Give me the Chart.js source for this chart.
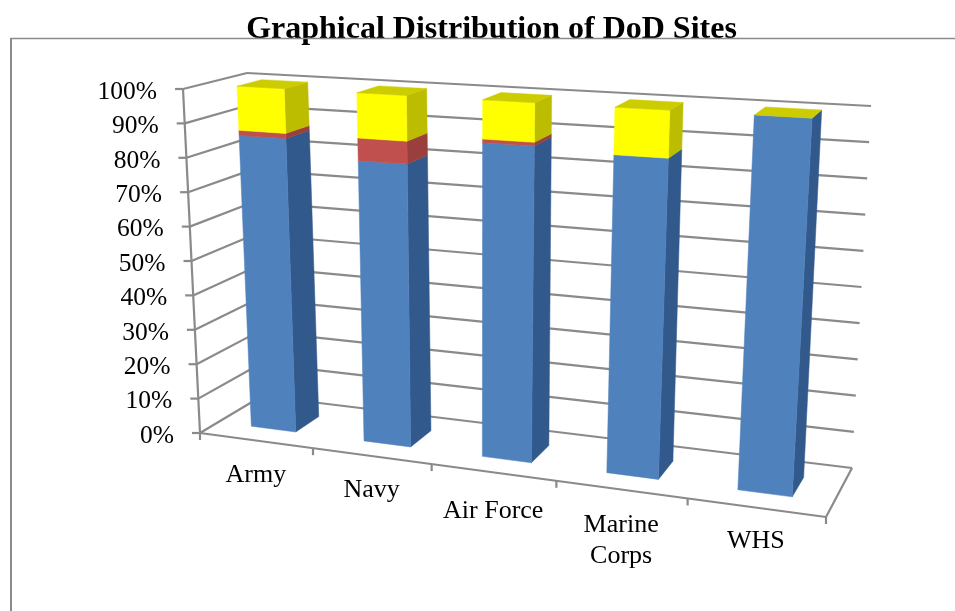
<!DOCTYPE html>
<html>
<head>
<meta charset="utf-8">
<title>Graphical Distribution of DoD Sites</title>
<script src="https://cdn.jsdelivr.net/npm/chart.js@4"></script>
<style>
  html, body { margin: 0; padding: 0; background: #fff; }
  canvas { display: block; }
</style>
</head>
<body>
<canvas id="chart" width="955" height="611"></canvas>
<script>
const categories = ["Army", "Navy", "Air Force", ["Marine", "Corps"], "WHS"];
const blueValues = [85.5, 80.5, 88, 87, 100];
const redValues = [1.5, 6.5, 1, 0, 0];
const yellowValues = [13, 13, 11, 13, 0];

const FONT = '"Liberation Serif", "Times New Roman", serif';
const GRID = "#8a8a8a";
const SIDE_COLORS = ["#32598c", "#9a3f3d", "#bcbc00"];
const TOP_COLORS = ["#3f6797", "#a84644", "#cccc00"];

// corners of the box the chart sits in, on screen
const FRONT_BOTTOM = [[200, 433], [826, 517]];
const BACK_BOTTOM = [[262, 396], [852, 468]];
const BACK_TOP = [[247, 73], [871, 106]];
const FRONT_TOP = [[183, 89], [850, 127]];
const PERSPECTIVE = 0.135;
const DEPTH_FRONT = 0.3;
const DEPTH_BACK = 0.7;
const LABEL_DROP = [0, -1, 4, 0, -2];

function lerp(a, b, t) {
  return [a[0] + (b[0] - a[0]) * t, a[1] + (b[1] - a[1]) * t];
}

// u along categories, v up the value axis, w into the page (all 0..1)
function project(u, v, w) {
  const f = u / (1 + PERSPECTIVE * (1 - u));
  const bottom = lerp(lerp(FRONT_BOTTOM[0], FRONT_BOTTOM[1], f), lerp(BACK_BOTTOM[0], BACK_BOTTOM[1], f), w);
  const top = lerp(lerp(FRONT_TOP[0], FRONT_TOP[1], f), lerp(BACK_TOP[0], BACK_TOP[1], f), w);
  return lerp(bottom, top, v);
}

function line(ctx, a, b) {
  ctx.beginPath();
  ctx.moveTo(a[0], a[1]);
  ctx.lineTo(b[0], b[1]);
  ctx.stroke();
}

function face(ctx, pts, color) {
  ctx.fillStyle = color;
  ctx.strokeStyle = color;
  ctx.lineWidth = 0.5;
  ctx.beginPath();
  pts.forEach((p, i) => (i ? ctx.lineTo(p[0], p[1]) : ctx.moveTo(p[0], p[1])));
  ctx.closePath();
  ctx.fill();
  ctx.stroke();
}

const box3d = {
  id: "box3d",
  beforeDatasetsDraw(chart) {
    const ctx = chart.ctx;
    const xs = chart.scales.x;
    const ys = chart.scales.y;
    const toV = (px) => (ys.bottom - px) / ys.height;
    const toU = (px) => (px - xs.left) / xs.width;

    ctx.save();

    // outer frame
    ctx.strokeStyle = GRID;
    ctx.lineWidth = 2;
    line(ctx, [11, 611], [11, 38]);
    ctx.lineWidth = 1.5;
    line(ctx, [10, 38.5], [955, 38.5]);

    // walls and value axis
    ctx.strokeStyle = GRID;
    ctx.lineWidth = 2.2;
    ctx.fillStyle = "#000";
    ctx.font = "25.5px " + FONT;
    ctx.textAlign = "right";
    ctx.textBaseline = "middle";
    ys.ticks.forEach((tick) => {
      const v = toV(ys.getPixelForValue(tick.value));
      const front = project(0, v, 0);
      line(ctx, [front[0] - 8, front[1]], front);
      line(ctx, front, project(0, v, 1));
      line(ctx, project(0, v, 1), project(1, v, 1));
      ctx.fillText(tick.label, front[0] - 26, front[1] + 3);
    });
    line(ctx, project(0, 0, 0), project(0, 1, 0));

    // floor and category axis
    line(ctx, project(0, 0, 0), project(1, 0, 0));
    line(ctx, project(1, 0, 0), project(1, 0, 1));
    ctx.font = "26px " + FONT;
    ctx.textAlign = "center";
    ctx.textBaseline = "alphabetic";
    const step = xs.width / categories.length;
    for (let i = 0; i <= categories.length; i++) {
      const p = project(toU(xs.left + step * i), 0, 0);
      line(ctx, p, [p[0], p[1] + 7]);
    }
    categories.forEach((label, i) => {
      const p = project(toU(xs.getPixelForValue(i)), 0, 0);
      [].concat(label).forEach((text, row) => {
        ctx.fillText(text, p[0], p[1] + 42 + LABEL_DROP[i] + row * 31);
      });
    });

    // bars, built from the elements the bar controller placed
    chart.data.datasets.forEach((dataset, s) => {
      chart.getDatasetMeta(s).data.forEach((el, i) => {
        if (!dataset.data[i]) return;
        const u0 = toU(el.x - el.width / 2);
        const u1 = toU(el.x + el.width / 2);
        const v0 = toV(el.base);
        const v1 = toV(el.y);
        face(ctx, [project(u1, v0, DEPTH_FRONT), project(u1, v0, DEPTH_BACK), project(u1, v1, DEPTH_BACK), project(u1, v1, DEPTH_FRONT)], SIDE_COLORS[s]);
        face(ctx, [project(u0, v0, DEPTH_FRONT), project(u1, v0, DEPTH_FRONT), project(u1, v1, DEPTH_FRONT), project(u0, v1, DEPTH_FRONT)], dataset.backgroundColor);
        if (v1 > 0.999) {
          face(ctx, [project(u0, v1, DEPTH_FRONT), project(u1, v1, DEPTH_FRONT), project(u1, v1, DEPTH_BACK), project(u0, v1, DEPTH_BACK)], TOP_COLORS[2]);
        }
      });
    });

    ctx.restore();
    return false;
  },
};

new Chart(document.getElementById("chart"), {
  type: "bar",
  data: {
    labels: categories,
    datasets: [
      { label: "Blue", data: blueValues, backgroundColor: "#4f81bd" },
      { label: "Red", data: redValues, backgroundColor: "#c0504d" },
      { label: "Yellow", data: yellowValues, backgroundColor: "#ffff00" },
    ],
  },
  options: {
    responsive: false,
    animation: false,
    layout: { padding: { left: 28 } },
    barPercentage: 0.4,
    categoryPercentage: 1,
    plugins: {
      legend: { display: false },
      tooltip: { enabled: false },
      title: {
        display: true,
        text: "Graphical Distribution of DoD Sites",
        color: "#000",
        font: { family: FONT, size: 32, weight: "bold" },
        padding: { top: 11, bottom: 4 },
      },
    },
    scales: {
      x: { stacked: true, display: false },
      y: {
        stacked: true,
        display: false,
        min: 0,
        max: 100,
        ticks: { stepSize: 10, callback: (v) => v + "%" },
      },
    },
  },
  plugins: [box3d],
});
</script>
</body>
</html>
